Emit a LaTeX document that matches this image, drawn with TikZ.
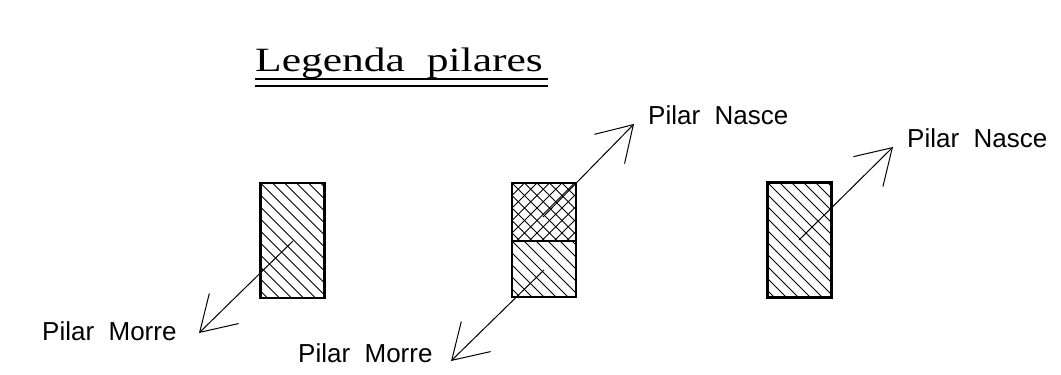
\documentclass[tikz,border=0pt]{standalone}
\usepackage{fontspec}
\newfontfamily\cadfont{Liberation Sans}
\newfontfamily\titlefont{Liberation Serif}
\usetikzlibrary{arrows.meta}

\begin{document}
\begin{tikzpicture}[x=1pt, y=-1pt,
	    pilar/.style={draw, line width=2.6pt, minimum width=64pt, minimum height=115pt, inner sep=0pt,
	        path picture={\foreach \k in {-10,...,6}
	            \draw[line width=0.8pt] ([xshift=\k*12pt]path picture bounding box.north west) -- ++(150pt,-150pt);}},
	    cruzado/.style={draw, line width=2.6pt, minimum width=64pt, minimum height=58pt, inner sep=0pt,
	        path picture={\foreach \k in {-6,...,6}
	            \draw[line width=0.8pt] ([xshift=\k*12.5pt]path picture bounding box.north west) -- ++(90pt,-90pt);
	          \foreach \k in {0,...,10}
	            \draw[line width=0.8pt] ([xshift=\k*12.5pt]path picture bounding box.north west) -- ++(-90pt,-90pt);}},
	    rotulo/.style={font=\cadfont\fontsize{26}{30}\selectfont, anchor=base west, inner sep=0pt},
	    seta/.style={line width=1pt, -{Straight Barb[length=34pt, width=42pt]}}]
	    
	    \useasboundingbox (0,0) rectangle (1061,375);
	    
	    % titulo
	    \node [anchor=base west, inner sep=0pt, font=\titlefont\fontsize{34}{40}\selectfont] (titulo) at (255,71)
	        {\scalebox{1.28}[1]{Legenda\hspace{17pt}pilares}};
	    \draw [line width=1.4pt] (255,79) -- (548,79);
	    \draw [line width=1.4pt] (255,86) -- (548,86);
	    
	    % pilares
	    \node [pilar] (p1) at (292.5,240.5) {};
	    \node [cruzado] (p2a) at (544,212) {};
	    \node [pilar, minimum height=56pt] (p2b) at (544,269) {};
	    \node [pilar] (p3) at (799.5,240) {};
	    
	    % pontos das setas
	    \coordinate (c1) at (293,241);
	    \coordinate (c2a) at (543,217);
	    \coordinate (c2b) at (544,270);
	    \coordinate (c3) at (799,240);
	    \coordinate (t1) at (199,333);
	    \coordinate (t2a) at (634,124);
	    \coordinate (t2b) at (451,361);
	    \coordinate (t3) at (893,147);
	    
	    \node [rotulo] (morre1) at (42,340) {Pilar\ \ Morre};
	    \node [rotulo] (morre2) at (298,362) {Pilar\ \ Morre};
	    \node [rotulo] (nasce1) at (648,124) {Pilar\ \ Nasce};
	    \node [rotulo] (nasce2) at (907,147) {Pilar\ \ Nasce};
	    
	    \draw [seta] (c1) -- (t1);
	    \draw [seta] (c2a) -- (t2a);
	    \draw [seta] (c2b) -- (t2b);
	    \draw [seta] (c3) -- (t3);
	\end{tikzpicture}
\end{document}
